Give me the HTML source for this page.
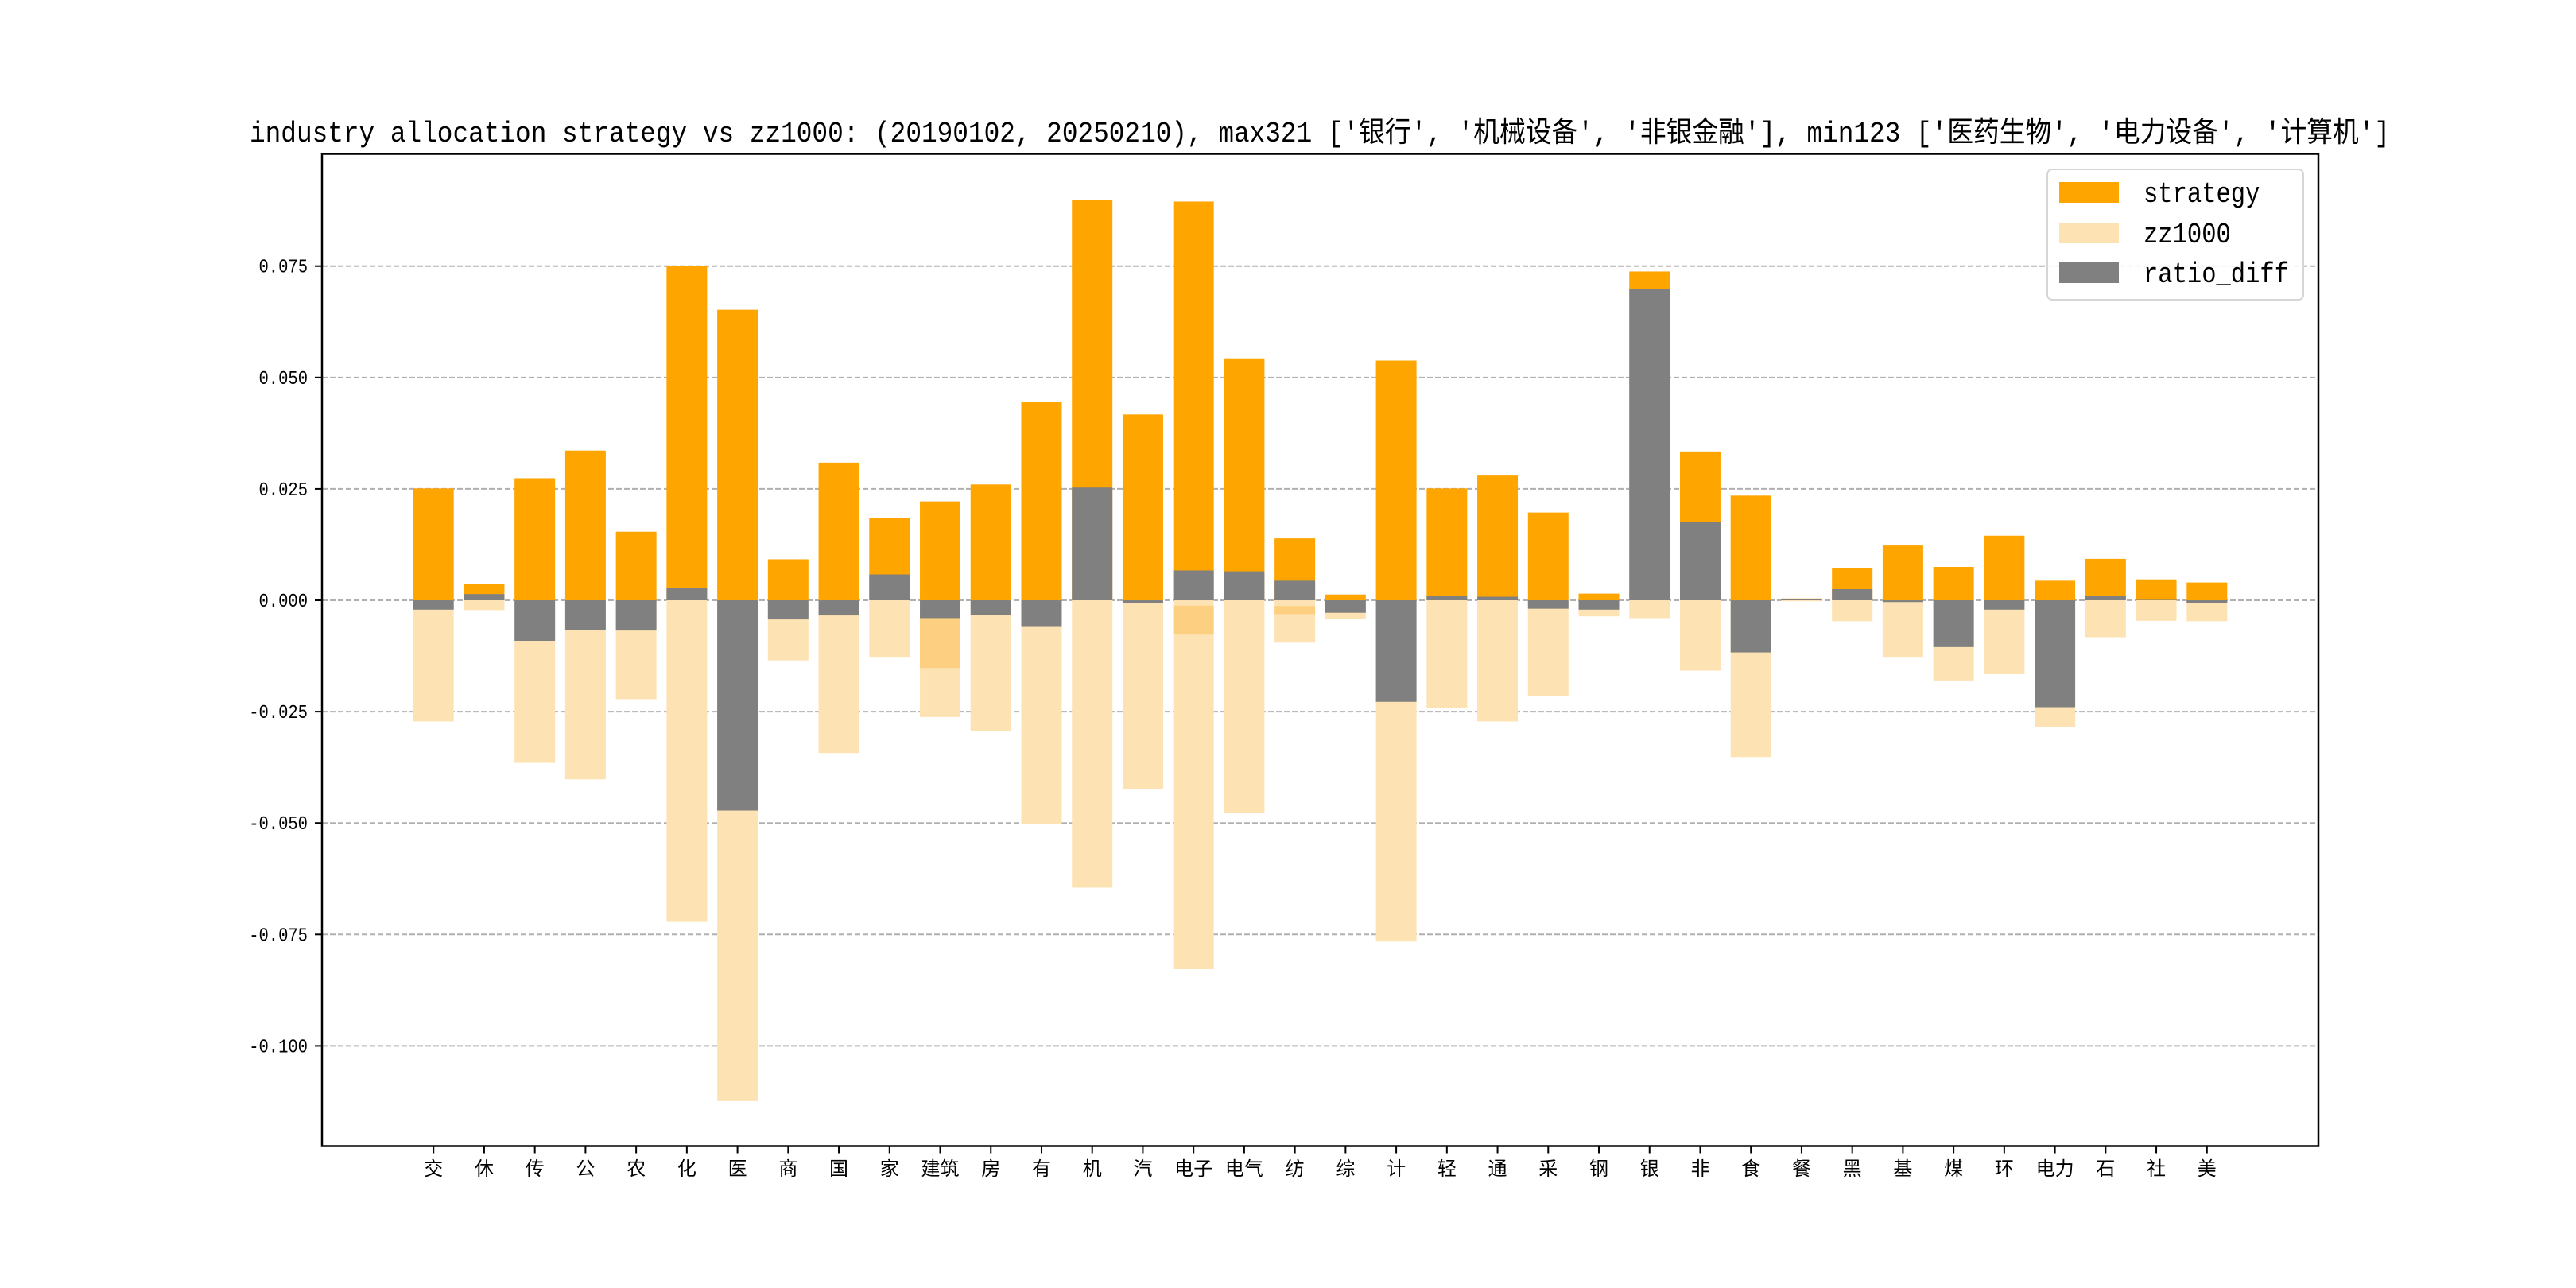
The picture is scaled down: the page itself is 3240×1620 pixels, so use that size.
<!DOCTYPE html>
<html><head><meta charset="utf-8">
<style>
html,body{margin:0;padding:0;background:#fff;}
svg{display:block;}
text{font-family:"Liberation Mono","Noto Sans CJK SC",monospace;fill:#000;}
</style></head>
<body>
<svg id="chart" width="3240" height="1620" viewBox="0 0 3240 1620" xmlns="http://www.w3.org/2000/svg">
<rect x="0" y="0" width="3240" height="1620" fill="#fff"/>
<text x="314" y="178" font-size="36" textLength="2692" lengthAdjust="spacingAndGlyphs">industry allocation strategy vs zz1000: (20190102, 20250210), max321 ['银行', '机械设备', '非银金融'], min123 ['医药生物', '电力设备', '计算机']</text>
<g id="grid"></g>
<g id="bars"></g>
<g id="axes"></g>
<g id="legend"></g>
</svg>
<script>
const categories = ["交","休","传","公","农","化","医","商","国","家","建筑","房","有","机","汽","电子","电气","纺","综","计","轻","通","采","钢","银","非","食","餐","黑","基","煤","环","电力","石","社","美"];
const strategy = [0.0251,0.0036,0.0274,0.0336,0.0154,0.0750,0.0652,0.0092,0.0309,0.0185,0.0222,0.0260,0.0445,0.0898,0.0417,0.0895,0.0543,0.0139,0.0013,0.0538,0.0251,0.0280,0.0197,0.0015,0.0738,0.0334,0.0235,0.0004,0.0072,0.0123,0.0075,0.0145,0.0044,0.0093,0.0047,0.0040];
const zz1000 = [0.0272,0.0022,0.0365,0.0402,0.0222,0.0722,0.1124,0.0135,0.0343,0.0127,0.0262,0.0293,0.0503,0.0645,0.0423,0.0828,0.0478,0.0095,0.0041,0.0766,0.0241,0.0272,0.0216,0.0036,0.0040,0.0158,0.0352,0.0002,0.0047,0.0127,0.0180,0.0166,0.0284,0.0083,0.0046,0.0047];
const overlapTop = {10:-0.0037, 15:-0.0012, 17:-0.0013};
const overlapBottom = {10:-0.0152, 15:-0.0077, 17:-0.0031};
const yTicks = [-0.100,-0.075,-0.050,-0.025,0.000,0.025,0.050,0.075];
const yTickLabels = ["-0.100","-0.075","-0.050","-0.025","0.000","0.025","0.050","0.075"];

const NS="http://www.w3.org/2000/svg";
const AX={l:405,r:2916,t:193.5,b:1441.5};
const yMin=-0.1225, yMax=0.1002;
const xMin=-2.2, xMax=categories.length-1+2.2;
function X(i){return AX.l+(i-xMin)/(xMax-xMin)*(AX.r-AX.l);}
function Y(v){return AX.b-(v-yMin)/(yMax-yMin)*(AX.b-AX.t);}
const bw=0.8*(X(1)-X(0));
function mk(tag,attrs,parent){const e=document.createElementNS(NS,tag);for(const k in attrs)e.setAttribute(k,attrs[k]);parent.appendChild(e);return e;}
const grid=document.getElementById('grid'),bars=document.getElementById('bars'),axes=document.getElementById('axes'),legend=document.getElementById('legend');

yTicks.forEach((v,k)=>{
  const g=mk('line',{x1:AX.l,x2:AX.r,y1:Y(v),y2:Y(v),stroke:'#b0b0b0','stroke-width':2,'stroke-dasharray':'7,3'},grid);
  
  
});

function bar(i,v0,v1,color,name){
  const ya=Y(Math.max(v0,v1)),yb=Y(Math.min(v0,v1));
  const r=mk('rect',{x:X(i)-bw/2,y:ya,width:bw,height:Math.max(yb-ya,0.5),fill:color},bars);
  
  
}
categories.forEach((c,i)=>{
  bar(i,0,strategy[i],'#ffa500','strategy-bar');
  bar(i,0,-zz1000[i],'#fde3b3','zz1000-bar');
  if(overlapTop[i]!==undefined) bar(i,overlapTop[i],overlapBottom[i],'#fdcf80','overlap-band');
  bar(i,0,strategy[i]-zz1000[i],'#808080','ratio-diff-bar');
});

const frame=mk('rect',{x:AX.l,y:AX.t,width:AX.r-AX.l,height:AX.b-AX.t,fill:'none',stroke:'#000','stroke-width':2.5},axes);



yTicks.forEach((v,k)=>{
  const t=mk('line',{x1:AX.l-9,x2:AX.l,y1:Y(v),y2:Y(v),stroke:'#000','stroke-width':2},axes);
  
  
  const lab=yTickLabels[k];
  const tx=mk('text',{x:387,y:Y(v)+8,'font-size':24,'text-anchor':'end',textLength:lab.length*12.3,lengthAdjust:'spacingAndGlyphs'},axes);
  tx.textContent=lab;
  
  
});
categories.forEach((c,i)=>{
  const t=mk('line',{x1:X(i),x2:X(i),y1:AX.b,y2:AX.b+9,stroke:'#000','stroke-width':2},axes);
  
  
  const tx=mk('text',{x:X(i),y:1478,'font-size':24,'text-anchor':'middle'},axes);
  tx.textContent=c;
  
  
});

const lb=mk('rect',{x:2575,y:213,width:322,height:164,rx:6,fill:'#fff','fill-opacity':0.85,stroke:'#d6d6d6','stroke-width':2},legend);


const leg=[["strategy","#ffa500",242],["zz1000","#fde3b3",293],["ratio_diff","#808080",343]];
leg.forEach(([n,col,cy])=>{
  const p=mk('rect',{x:2590,y:cy-13,width:75,height:26,fill:col},legend);
  
  
  const t=mk('text',{x:2696,y:cy+12,'font-size':36,textLength:n.length*18.3,lengthAdjust:'spacingAndGlyphs'},legend);
  t.textContent=n;
  
  
});
</script>
</body></html>
